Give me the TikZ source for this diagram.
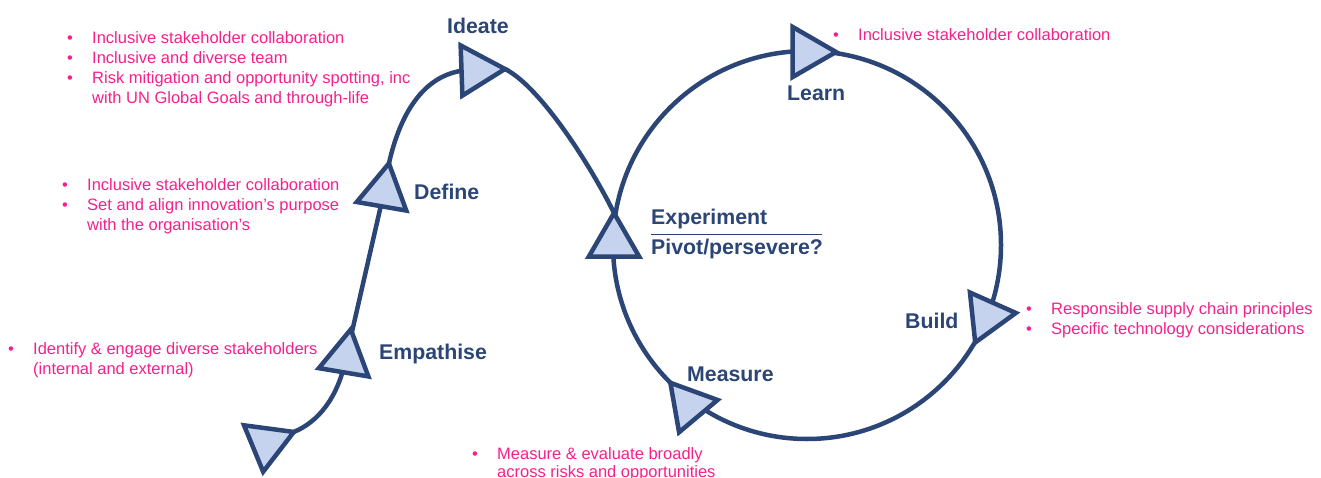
\documentclass[tikz,border=0pt]{standalone}
\usepackage{fontspec}
\setmainfont{Liberation Sans}
\usetikzlibrary{shapes.geometric}

\definecolor{navy}{HTML}{2B4576}
\definecolor{trifill}{HTML}{C5D3EE}
\definecolor{hotpink}{HTML}{F5208C}

\tikzset{
  flow/.style={draw=navy, line width=4.5pt},
  stage/.style={regular polygon, regular polygon sides=3, minimum size=58pt,
    inner sep=0pt, outer sep=0pt, draw=navy, fill=trifill, line width=4.5pt},
  phase/.style={text=navy, inner sep=0pt, anchor=base west,
    font=\fontsize{21.3}{24}\selectfont\bfseries},
  note/.style={text=hotpink, inner sep=0pt, anchor=base west,
    font=\fontsize{16.5}{20}\selectfont},
}
\newcommand{\bul}{\makebox[25pt][l]{\textbullet}}
\newcommand{\cont}{\hspace*{25pt}}

\begin{document}
\begin{tikzpicture}[x=1pt, y=-1pt]
  \useasboundingbox (0,0) rectangle (1321,478);

  % build-measure-learn loop
  \node[circle, draw=navy, line width=4.5pt, minimum size=388pt, inner sep=0pt] (loop) at (807,245) {};

  % stage markers (coordinates only, drawn after the connectors)
  \path (267,443) node[stage, rotate=172.4, draw=none, fill=none] (start) {}
        (346,358) node[stage, rotate=-9.5, draw=none, fill=none] (emp) {}
        (384,192) node[stage, rotate=-9.8, draw=none, fill=none] (def) {}
        (476,70)  node[stage, rotate=-88, draw=none, fill=none] (ide) {}
        (614,242) node[stage, rotate=0, draw=none, fill=none] (exp) {};

  % design-thinking path
  \draw[flow] (start.corner 2) .. controls (318,422) and (338,398) .. (emp.center);
  \draw[flow] (emp.center) -- (def.center);
  \draw[flow] (def.corner 1) .. controls (400,114) and (425,68) .. (ide.center);
  \draw[flow] (ide.corner 1) .. controls (541,87) and (592,168) .. (exp.corner 1);

  % visible stage markers
  \node[stage, rotate=172.4] at (start) {};
  \node[stage, rotate=-9.5] at (emp) {};
  \node[stage, rotate=-9.8] at (def) {};
  \node[stage, rotate=-88] at (ide) {};
  \node[stage, rotate=0] at (exp) {};
  \node[stage, rotate=-90] (lrn) at (807,52) {};
  \node[stage, rotate=-84] (bld) at (987,316) {};
  \node[stage, rotate=-80] (msr) at (689,405) {};

  % stage labels
  \node[phase] (tIde) at (447,33.5) {Ideate};
  \node[phase] (tDef) at (414,199.5) {Define};
  \node[phase] (tEmp) at (379,359) {Empathise};
  \node[phase] (tLrn) at (787,100.5) {Learn};
  \node[phase] (tExp) at (651,224.5) {Experiment};
  \node[phase] (tPiv) at (651,254.5) {Pivot/persevere?};
  \node[phase] (tBld) at (905,328.5) {Build};
  \node[phase] (tMsr) at (687,381) {Measure};
  \coordinate (ruleL) at (651,234);
  \coordinate (ruleR) at (822,234);
  \draw[navy, line width=0.8pt] (ruleL) -- (ruleR);

  % notes per stage
  \node[note] (n11) at (67,44)  {\bul Inclusive stakeholder collaboration};
  \node[note] (n12) at (67,64)  {\bul Inclusive and diverse team};
  \node[note] (n13) at (67,84)  {\bul Risk mitigation and opportunity spotting, inc};
  \node[note] (n14) at (67,104) {\cont with UN Global Goals and through-life};

  \node[note] (n21) at (62,191) {\bul Inclusive stakeholder collaboration};
  \node[note] (n22) at (62,211) {\bul Set and align innovation’s purpose};
  \node[note] (n23) at (62,231) {\cont with the organisation’s};

  \node[note] (n31) at (8,354) {\bul Identify \& engage diverse stakeholders};
  \node[note] (n32) at (8,374) {\cont (internal and external)};

  \node[note] (n41) at (472,459) {\bul Measure \& evaluate broadly};
  \node[note] (n42) at (472,477) {\cont across risks and opportunities};

  \node[note] (n51) at (833,41) {\bul Inclusive stakeholder collaboration};

  \node[note] (n61) at (1026,314) {\bul Responsible supply chain principles};
  \node[note] (n62) at (1026,334) {\bul Specific technology considerations};
\end{tikzpicture}
\end{document}
